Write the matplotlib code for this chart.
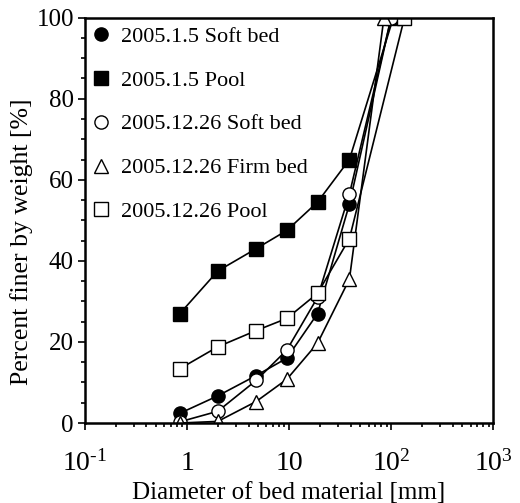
import numpy as np
import matplotlib.pyplot as plt
from matplotlib.ticker import LogLocator, NullFormatter, MultipleLocator

plt.rcParams['font.family'] = ['Liberation Serif', 'DejaVu Serif']
plt.rcParams['mathtext.fontset'] = 'custom'
plt.rcParams['mathtext.rm'] = 'Liberation Serif'
plt.rcParams['mathtext.it'] = 'Liberation Serif:italic'

# sieve diameters [mm] and percent finer
d_soft_0105 = [0.85, 2.0, 4.75, 9.5, 19, 39, 100]
pct_soft_0105 = [2.4, 6.7, 11.7, 16.0, 27.0, 54.0, 100]

d_pool_0105 = [0.85, 2.0, 4.75, 9.5, 19, 39, 105]
pct_pool_0105 = [27.0, 37.5, 43.0, 47.5, 54.5, 65.0, 100]

d_soft_1226 = [0.85, 2.0, 4.75, 9.5, 19, 39, 100]
pct_soft_1226 = [0.3, 2.9, 10.5, 18.0, 31.0, 56.5, 100]

d_firm_1226 = [0.85, 2.0, 4.75, 9.5, 19, 39, 85]
pct_firm_1226 = [0.0, 0.4, 5.3, 10.8, 19.7, 35.5, 100]

d_pool_1226 = [0.85, 2.0, 4.75, 9.5, 19, 39, 135]
pct_pool_1226 = [13.4, 18.8, 22.8, 25.8, 32.0, 45.5, 100]

xticks = [0.1, 1, 10, 100, 1000]
xticklabels = [r'$10^{\text{-}1}$', '1', '10', r'$10^{2}$', r'$10^{3}$']

fig = plt.figure(figsize=(5.2, 5.03), dpi=100)
ax = fig.add_axes([0.1635, 0.159, 0.785, 0.806])

ms = 9.5
ax.plot(d_soft_0105, pct_soft_0105, '-o', color='black', mfc='black', mec='black',
        ms=ms, lw=1.2, label='2005.1.5 Soft bed')
ax.plot(d_pool_0105, pct_pool_0105, '-s', color='black', mfc='black', mec='black',
        ms=ms, lw=1.2, label='2005.1.5 Pool')
ax.plot(d_soft_1226, pct_soft_1226, '-o', color='black', mfc='white', mec='black',
        ms=ms, lw=1.2, label='2005.12.26 Soft bed')
ax.plot(d_firm_1226, pct_firm_1226, '-^', color='black', mfc='white', mec='black',
        ms=ms + 1, lw=1.2, label='2005.12.26 Firm bed')
ax.plot(d_pool_1226, pct_pool_1226, '-s', color='black', mfc='white', mec='black',
        ms=ms, lw=1.2, label='2005.12.26 Pool')

ax.set_xscale('log')
ax.set_xlim(0.1, 1000)
ax.set_ylim(0, 100)
ax.set_xticks(xticks)
ax.set_xticklabels(xticklabels)
ax.xaxis.set_minor_locator(LogLocator(base=10, subs=np.arange(2, 10)))
ax.xaxis.set_minor_formatter(NullFormatter())
ax.yaxis.set_major_locator(MultipleLocator(20))
ax.yaxis.set_minor_locator(MultipleLocator(5))

for s in ax.spines.values():
    s.set_linewidth(1.8)
ax.tick_params(which='both', direction='out', top=False, right=False, width=1.2)
ax.tick_params(which='major', length=5)
ax.tick_params(which='minor', length=3)
ax.tick_params(axis='y', labelsize=18, pad=3)
ax.tick_params(axis='x', labelsize=20, pad=29)
for lab in ax.get_xticklabels():
    lab.set_verticalalignment('baseline')

ax.set_xlabel('Diameter of bed material [mm]', fontsize=18)
ax.xaxis.label.set_verticalalignment('center')
ax.xaxis.set_label_coords(0.5, -0.172)
ax.set_ylabel('Percent finer by weight [%]', fontsize=18.5)
ax.yaxis.label.set_verticalalignment('center')
ax.yaxis.set_label_coords(-0.155, 0.448)

leg = ax.legend(loc='upper left', bbox_to_anchor=(0.0, 0.9926), frameon=False,
                fontsize=16, handlelength=0.95, handletextpad=0.42,
                labelspacing=1.05, borderaxespad=0.0, borderpad=0.25,
                markerscale=1.0)
for line in leg.get_lines():
    line.set_linestyle('none')

fig.savefig('out.png', dpi=100)
